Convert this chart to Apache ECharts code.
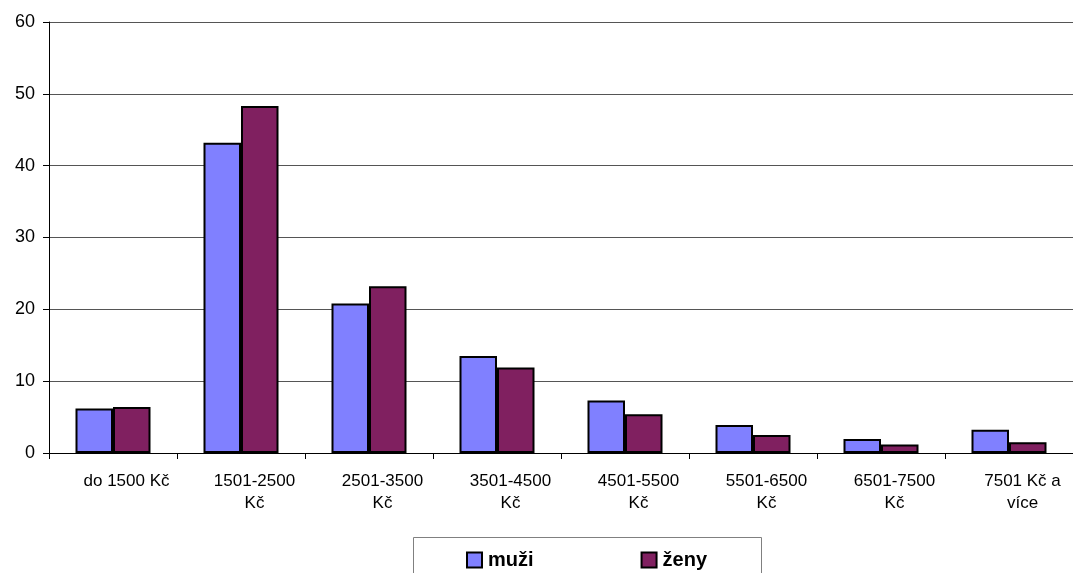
<!DOCTYPE html>
<html>
<head>
<meta charset="utf-8">
<script src="https://cdn.jsdelivr.net/npm/echarts@6/dist/echarts.min.js"></script>
<style>html,body{margin:0;padding:0;background:#fff}#c{width:1073px;height:573px}</style>
</head>
<body>
<div id="c"></div>
<script>
const categories = ["do 1500 Kč", "1501-2500\nKč", "2501-3500\nKč", "3501-4500\nKč", "4501-5500\nKč", "5501-6500\nKč", "6501-7500\nKč", "7501 Kč a\nvíce"];
const muzi = [6.2, 43.2, 20.8, 13.5, 7.3, 3.9, 1.95, 3.25];
const zeny = [6.4, 48.3, 23.2, 11.9, 5.4, 2.5, 1.2, 1.5];
const yTicks = [0, 10, 20, 30, 40, 50, 60];

const chart = echarts.init(document.getElementById('c'), null, {renderer: 'canvas'});
const font = 'Liberation Sans, Arial, sans-serif';
chart.setOption({
  animation: false,
  grid: {left: 49, top: 22, width: 1028, height: 431, containLabel: false},
  xAxis: {
    type: 'category',
    data: categories,
    axisLine: {lineStyle: {color: '#000', width: 1}},
    axisTick: {show: true, length: 6, alignWithLabel: false, lineStyle: {color: '#000'}},
    axisLabel: {color: '#000', fontFamily: font, fontSize: 17, lineHeight: 22, margin: 17, interval: 0, padding: [0, 0, 0, 27]}
  },
  yAxis: {
    type: 'value',
    min: yTicks[0], max: yTicks[yTicks.length - 1], interval: 10,
    axisLine: {show: true, lineStyle: {color: '#000', width: 1}},
    axisTick: {show: true, length: 6, lineStyle: {color: '#000'}},
    axisLabel: {color: '#000', fontFamily: font, fontSize: 18, margin: 14},
    splitLine: {show: true, lineStyle: {color: '#555', width: 1}}
  },
  legend: {
    left: 461, top: 545, icon: 'rect',
    itemWidth: 15, itemHeight: 15, itemGap: 107,
    textStyle: {color: '#000', fontFamily: font, fontSize: 20, fontWeight: 'bold', padding: [0,0,0,1]},
    data: ['muži', 'ženy']
  },
  graphic: [{
    type: 'rect', left: 413, top: 537, z: -1,
    shape: {width: 348, height: 60},
    style: {fill: '#fff', stroke: '#808080', lineWidth: 1}
  }],
  series: [
    {name: 'muži', type: 'bar', data: muzi, barWidth: 37.5, barGap: '0%',
     itemStyle: {color: '#8080FF', borderColor: '#000', borderWidth: 2}},
    {name: 'ženy', type: 'bar', data: zeny, barWidth: 37.5, barGap: '0%',
     itemStyle: {color: '#802060', borderColor: '#000', borderWidth: 2}}
  ]
});
</script>
</body>
</html>
